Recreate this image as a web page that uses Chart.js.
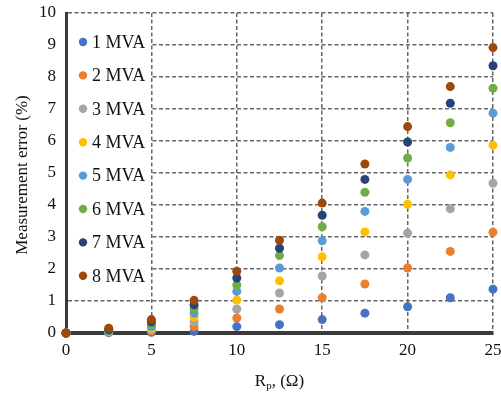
<!DOCTYPE html>
<html>
<head>
<meta charset="utf-8">
<script src="https://cdn.jsdelivr.net/npm/chart.js@4.4.1/dist/chart.umd.min.js"></script>
<style>
  html, body { margin: 0; padding: 0; background: #fff; }
  #wrap { width: 501px; height: 394px; position: relative; }
</style>
</head>
<body>
<div id="wrap"><canvas id="c" width="501" height="394"></canvas></div>
<script>
// ---- data ----
const rpValues = [0, 2.5, 5, 7.5, 10, 12.5, 15, 17.5, 20, 22.5, 25];
const seriesLabels = ['1 MVA', '2 MVA', '3 MVA', '4 MVA', '5 MVA', '6 MVA', '7 MVA', '8 MVA'];
const mva1 = [0, 0.01, 0.02, 0.05, 0.2, 0.26, 0.42, 0.62, 0.82, 1.1, 1.37];
const mva2 = [0, 0.03, 0.06, 0.2, 0.47, 0.75, 1.1, 1.53, 2.03, 2.55, 3.15];
const mva3 = [0, 0.04, 0.1, 0.35, 0.75, 1.25, 1.78, 2.44, 3.12, 3.88, 4.68];
const mva4 = [0, 0.05, 0.15, 0.5, 1.03, 1.63, 2.38, 3.16, 4.02, 4.94, 5.87];
const mva5 = [0, 0.06, 0.2, 0.62, 1.3, 2.03, 2.88, 3.8, 4.8, 5.8, 6.87];
const mva6 = [0, 0.08, 0.27, 0.75, 1.5, 2.42, 3.32, 4.4, 5.47, 6.57, 7.65];
const mva7 = [0, 0.1, 0.35, 0.88, 1.72, 2.65, 3.68, 4.8, 5.97, 7.18, 8.35];
const mva8 = [0, 0.15, 0.42, 1.02, 1.93, 2.9, 4.06, 5.28, 6.45, 7.7, 8.92];
const xTicks = [0, 5, 10, 15, 20, 25];
const yTicks = [0, 1, 2, 3, 4, 5, 6, 7, 8, 9, 10];
const yTitle = 'Measurement error (%)';
const xTitleMain = 'R';
const xTitleSub = 'p';
const xTitleRest = ', (Ω)';

const seriesValues = [mva1, mva2, mva3, mva4, mva5, mva6, mva7, mva8];
const colors = ['#4472C4', '#ED7D31', '#A5A5A5', '#FFC000', '#5B9BD5', '#70AD47', '#264478', '#9E480E'];

const FONT = '"Liberation Serif", "Times New Roman", serif';

const datasets = seriesValues.map((vals, i) => ({
  label: seriesLabels[i],
  data: rpValues.map((x, j) => ({ x: x, y: vals[j] })),
  backgroundColor: colors[i],
  borderColor: colors[i],
  pointRadius: 4.5,
  pointBorderWidth: 0,
  showLine: false,
  clip: false,
  order: 8 - i
}));

const legendPlugin = {
  id: 'insideLegend',
  beforeDatasetsDraw(chart) {
    const ctx = chart.ctx;
    const a = chart.chartArea;
    ctx.save();
    ctx.fillStyle = '#ffffff';
    ctx.fillRect(a.left + 2, a.top + 3, 83, 277);
    ctx.font = '18px ' + FONT;
    ctx.textBaseline = 'middle';
    ctx.textAlign = 'left';
    chart.data.datasets.forEach((ds, i) => {
      const y = a.top + 29 + i * 33.4;
      ctx.fillStyle = ds.backgroundColor;
      ctx.beginPath();
      ctx.arc(a.left + 17, y, 4.2, 0, Math.PI * 2);
      ctx.fill();
      ctx.fillStyle = '#111';
      ctx.fillText(ds.label, a.left + 26, y + 1);
    });
    ctx.restore();
  }
};

const titlePlugin = {
  id: 'axisTitles',
  afterDraw(chart) {
    const ctx = chart.ctx;
    const a = chart.chartArea;
    ctx.save();
    ctx.fillStyle = '#111';
    ctx.font = '17px ' + FONT;
    ctx.textAlign = 'center';
    ctx.textBaseline = 'middle';
    ctx.translate(23, (a.top + a.bottom) / 2 + 2);
    ctx.rotate(-Math.PI / 2);
    ctx.fillText(yTitle, 0, 0);
    ctx.restore();
    ctx.save();
    ctx.fillStyle = '#111';
    ctx.textBaseline = 'alphabetic';
    ctx.textAlign = 'left';
    const mainFont = '17px ' + FONT;
    const subFont = '11px ' + FONT;
    ctx.font = mainFont;
    const w1 = ctx.measureText(xTitleMain).width;
    const w3 = ctx.measureText(xTitleRest).width;
    ctx.font = subFont;
    const w2 = ctx.measureText(xTitleSub).width;
    const total = w1 + w2 + w3;
    let x = (a.left + a.right) / 2 - total / 2;
    const base = 386;
    ctx.font = mainFont;
    ctx.fillText(xTitleMain, x, base);
    x += w1;
    ctx.font = subFont;
    ctx.fillText(xTitleSub, x, base + 3);
    x += w2;
    ctx.font = mainFont;
    ctx.fillText(xTitleRest, x, base);
    ctx.restore();
  }
};

const gridCommon = {
  color: '#666666',
  lineWidth: 1.5,
  drawTicks: false
};

new Chart(document.getElementById('c'), {
  type: 'scatter',
  data: { datasets: datasets },
  options: {
    responsive: false,
    animation: false,
    devicePixelRatio: 1,
    layout: { padding: { top: 13, right: 8, left: 0, bottom: 0 } },
    plugins: {
      legend: { display: false },
      tooltip: { enabled: false },
      title: { display: false }
    },
    scales: {
      x: {
        type: 'linear',
        min: 0, max: 25,
        afterBuildTicks(scale) { scale.ticks = xTicks.map(v => ({ value: v })); },
        afterFit(scale) {
          scale.height = 61;
          scale.paddingLeft = 0; scale.paddingRight = 0;
          scale.paddingTop = 0; scale.paddingBottom = 0;
        },
        grid: gridCommon,
        border: { display: true, color: '#3a3a3a', width: 4, dash: [4, 2.5] },
        ticks: {
          padding: 7,
          color: '#111',
          font: { family: FONT, size: 17 }
        },
        title: { display: false }
      },
      y: {
        type: 'linear',
        min: 0, max: 10,
        afterBuildTicks(scale) { scale.ticks = yTicks.map(v => ({ value: v })); },
        afterFit(scale) {
          scale.width = 66;
          scale.paddingLeft = 0; scale.paddingRight = 0;
          scale.paddingTop = 0; scale.paddingBottom = 0;
        },
        grid: gridCommon,
        border: { display: true, color: '#3a3a3a', width: 3, dash: [4, 2.5] },
        ticks: {
          padding: 10,
          color: '#111',
          font: { family: FONT, size: 17 }
        },
        title: { display: false }
      }
    }
  },
  plugins: [legendPlugin, titlePlugin]
});
</script>
</body>
</html>
